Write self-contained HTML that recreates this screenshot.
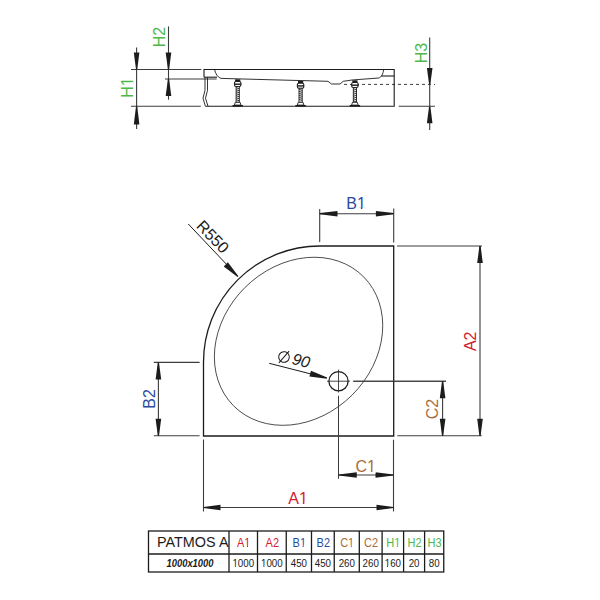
<!DOCTYPE html>
<html><head><meta charset="utf-8"><style>
html,body{margin:0;padding:0;background:#fff;}
svg{display:block;font-family:"Liberation Sans", sans-serif;}
</style></head><body>
<svg width="600" height="600" viewBox="0 0 600 600">
<rect width="600" height="600" fill="#fff"/>
<line x1="131" y1="69.5" x2="201.3" y2="69.5" stroke="#3c3c3c" stroke-width="1.1" />
<line x1="131" y1="106.2" x2="200.8" y2="106.2" stroke="#3c3c3c" stroke-width="1.1" />
<line x1="165" y1="79" x2="216.7" y2="79" stroke="#3c3c3c" stroke-width="1.1" />
<line x1="136.6" y1="47.5" x2="136.6" y2="129" stroke="#3c3c3c" stroke-width="1.1" />
<polygon points="137.20,69.50 139.40,52.60 133.80,52.60 136.00,69.50" fill="#1c1c1c"/>
<polygon points="136.00,106.20 133.80,124.50 139.40,124.50 137.20,106.20" fill="#1c1c1c"/>
<line x1="168.5" y1="26.4" x2="168.5" y2="99.7" stroke="#3c3c3c" stroke-width="1.1" />
<polygon points="169.10,69.50 171.30,52.60 165.70,52.60 167.90,69.50" fill="#1c1c1c"/>
<polygon points="167.90,79.00 165.70,96.00 171.30,96.00 169.10,79.00" fill="#1c1c1c"/>
<line x1="429.7" y1="37.5" x2="429.7" y2="130" stroke="#3c3c3c" stroke-width="1.1" />
<polygon points="430.30,84.30 432.50,68.00 426.90,68.00 429.10,84.30" fill="#1c1c1c"/>
<polygon points="429.10,106.30 426.90,123.30 432.50,123.30 430.30,106.30" fill="#1c1c1c"/>
<line x1="398.7" y1="106.3" x2="435" y2="106.3" stroke="#3c3c3c" stroke-width="1.1" />
<line x1="344" y1="84.4" x2="435" y2="84.4" stroke="#3c3c3c" stroke-width="1.0" stroke-dasharray="3,3"/>
<path d="M204,77.2 L204,69.5 L394.2,69.5 L394.2,106.2 L205.4,106.2" fill="none" stroke="#1c1c1c" stroke-width="1.1"/>
<path d="M204,77.2 L217,77.2" fill="none" stroke="#1c1c1c" stroke-width="1.1"/>
<path d="M214.6,69.5 Q216,76.5 221,78.4 L328,81.3 L331.5,84 L340,84 L343.3,81.3 L352,80 L378.7,78 C381.5,77.4 383,74 383.7,69.5" fill="none" stroke="#1c1c1c" stroke-width="0.9"/>
<path d="M381.3,76 L394.2,76" fill="none" stroke="#1c1c1c" stroke-width="1.1"/>
<path d="M205,77.2 L205,90.3 L203,98.2 L205.4,106.2" fill="none" stroke="#1c1c1c" stroke-width="0.9"/>
<path d="M207.5,77.2 L207.5,90.3 L205.5,98.2 L208,106.2" fill="none" stroke="#1c1c1c" stroke-width="0.9"/>
<rect x="235.1" y="79.3" width="5.2" height="2" fill="#1c1c1c"/>
<rect x="234.5" y="81.5" width="6.4" height="5" rx="1.4" fill="#fff" stroke="#1c1c1c" stroke-width="1.1"/>
<rect x="234.29999999999998" y="83.5" width="6.8" height="1.4" fill="#1c1c1c"/>
<rect x="236.1" y="86.6" width="3.2" height="15.7" fill="#fff" stroke="#1c1c1c" stroke-width="0.9"/>
<line x1="236.1" y1="87.80" x2="239.29999999999998" y2="88.60" stroke="#1c1c1c" stroke-width="0.9"/>
<line x1="236.1" y1="89.80" x2="239.29999999999998" y2="90.60" stroke="#1c1c1c" stroke-width="0.9"/>
<line x1="236.1" y1="91.80" x2="239.29999999999998" y2="92.60" stroke="#1c1c1c" stroke-width="0.9"/>
<line x1="236.1" y1="93.80" x2="239.29999999999998" y2="94.60" stroke="#1c1c1c" stroke-width="0.9"/>
<line x1="236.1" y1="95.80" x2="239.29999999999998" y2="96.60" stroke="#1c1c1c" stroke-width="0.9"/>
<line x1="236.1" y1="97.80" x2="239.29999999999998" y2="98.60" stroke="#1c1c1c" stroke-width="0.9"/>
<line x1="236.1" y1="99.80" x2="239.29999999999998" y2="100.60" stroke="#1c1c1c" stroke-width="0.9"/>
<path d="M235.29999999999998,102.3 L240.1,102.3 L241.0,105.1 L234.39999999999998,105.1 Z" fill="#fff" stroke="#1c1c1c" stroke-width="0.9"/>
<rect x="232.5" y="105" width="10.4" height="1.6" fill="#1c1c1c"/>
<rect x="298.0" y="81.0" width="5.2" height="2" fill="#1c1c1c"/>
<rect x="297.40000000000003" y="83.2" width="6.4" height="5" rx="1.4" fill="#fff" stroke="#1c1c1c" stroke-width="1.1"/>
<rect x="297.20000000000005" y="85.2" width="6.8" height="1.4" fill="#1c1c1c"/>
<rect x="299.0" y="88.3" width="3.2" height="13.999999999999996" fill="#fff" stroke="#1c1c1c" stroke-width="0.9"/>
<line x1="299.0" y1="89.50" x2="302.20000000000005" y2="90.30" stroke="#1c1c1c" stroke-width="0.9"/>
<line x1="299.0" y1="91.50" x2="302.20000000000005" y2="92.30" stroke="#1c1c1c" stroke-width="0.9"/>
<line x1="299.0" y1="93.50" x2="302.20000000000005" y2="94.30" stroke="#1c1c1c" stroke-width="0.9"/>
<line x1="299.0" y1="95.50" x2="302.20000000000005" y2="96.30" stroke="#1c1c1c" stroke-width="0.9"/>
<line x1="299.0" y1="97.50" x2="302.20000000000005" y2="98.30" stroke="#1c1c1c" stroke-width="0.9"/>
<line x1="299.0" y1="99.50" x2="302.20000000000005" y2="100.30" stroke="#1c1c1c" stroke-width="0.9"/>
<path d="M298.20000000000005,102.3 L303.0,102.3 L303.90000000000003,105.1 L297.3,105.1 Z" fill="#fff" stroke="#1c1c1c" stroke-width="0.9"/>
<rect x="295.40000000000003" y="105" width="10.4" height="1.6" fill="#1c1c1c"/>
<rect x="352.29999999999995" y="80.3" width="5.2" height="2" fill="#1c1c1c"/>
<rect x="351.7" y="82.5" width="6.4" height="5" rx="1.4" fill="#fff" stroke="#1c1c1c" stroke-width="1.1"/>
<rect x="351.5" y="84.5" width="6.8" height="1.4" fill="#1c1c1c"/>
<rect x="353.29999999999995" y="87.6" width="3.2" height="14.7" fill="#fff" stroke="#1c1c1c" stroke-width="0.9"/>
<line x1="353.29999999999995" y1="88.80" x2="356.5" y2="89.60" stroke="#1c1c1c" stroke-width="0.9"/>
<line x1="353.29999999999995" y1="90.80" x2="356.5" y2="91.60" stroke="#1c1c1c" stroke-width="0.9"/>
<line x1="353.29999999999995" y1="92.80" x2="356.5" y2="93.60" stroke="#1c1c1c" stroke-width="0.9"/>
<line x1="353.29999999999995" y1="94.80" x2="356.5" y2="95.60" stroke="#1c1c1c" stroke-width="0.9"/>
<line x1="353.29999999999995" y1="96.80" x2="356.5" y2="97.60" stroke="#1c1c1c" stroke-width="0.9"/>
<line x1="353.29999999999995" y1="98.80" x2="356.5" y2="99.60" stroke="#1c1c1c" stroke-width="0.9"/>
<line x1="353.29999999999995" y1="100.80" x2="356.5" y2="101.60" stroke="#1c1c1c" stroke-width="0.9"/>
<path d="M352.5,102.3 L357.29999999999995,102.3 L358.2,105.1 L351.59999999999997,105.1 Z" fill="#fff" stroke="#1c1c1c" stroke-width="0.9"/>
<rect x="349.7" y="105" width="10.4" height="1.6" fill="#1c1c1c"/>
<g transform="translate(132.6 87.5) rotate(-90)"><text x="0" y="0" font-size="16" fill="#4db848" text-anchor="middle">H1</text><rect x="1.875" y="-1.523" width="3.438" height="2.500" fill="#fff"/><rect x="6.805" y="-1.523" width="3.352" height="2.500" fill="#fff"/></g>
<g transform="translate(165 37) rotate(-90)"><text x="0" y="0" font-size="16" fill="#4db848" text-anchor="middle">H2</text></g>
<g transform="translate(427.2 53) rotate(-90)"><text x="0" y="0" font-size="16" fill="#4db848" text-anchor="middle">H3</text></g>
<path d="M203.5,362.4 A116.2,116.2 0 0 1 319.7,246 L393.7,246 L393.7,436 L203.5,436 Z" fill="none" stroke="#1c1c1c" stroke-width="1.3"/>
<ellipse cx="298.55" cy="341.28" rx="91.6" ry="75.9" transform="rotate(-44.74 298.55 341.28)" fill="none" stroke="#3a3a3a" stroke-width="0.85"/>
<circle cx="338.5" cy="381.2" r="9.6" fill="none" stroke="#1c1c1c" stroke-width="1.3"/>
<line x1="327" y1="381.2" x2="350" y2="381.2" stroke="#333" stroke-width="0.9" />
<line x1="353.3" y1="381.2" x2="446" y2="381.2" stroke="#3c3c3c" stroke-width="1.0" />
<line x1="338.5" y1="369.6" x2="338.5" y2="392.5" stroke="#333" stroke-width="0.9" />
<line x1="338.5" y1="395.8" x2="338.5" y2="478.8" stroke="#3c3c3c" stroke-width="1.0" />
<line x1="269.2" y1="363.3" x2="320" y2="376.3" stroke="#1c1c1c" stroke-width="1.0" />
<polygon points="327.16,377.62 310.97,370.80 309.43,376.40 326.84,378.78" fill="#1c1c1c"/>
<line x1="188.3" y1="224" x2="230" y2="268" stroke="#1c1c1c" stroke-width="1.0" />
<polygon points="238.43,276.28 227.86,262.36 223.74,266.44 237.57,277.12" fill="#1c1c1c"/>
<line x1="319.7" y1="209" x2="319.7" y2="242" stroke="#3c3c3c" stroke-width="1.1" />
<line x1="393.7" y1="208.5" x2="393.7" y2="242.5" stroke="#3c3c3c" stroke-width="1.1" />
<line x1="319.7" y1="213.7" x2="393.7" y2="213.7" stroke="#3c3c3c" stroke-width="1.1" />
<polygon points="319.70,214.30 337.50,216.50 337.50,210.90 319.70,213.10" fill="#1c1c1c"/>
<polygon points="393.70,213.10 375.90,210.90 375.90,216.50 393.70,214.30" fill="#1c1c1c"/>
<line x1="397" y1="246" x2="482" y2="246" stroke="#3c3c3c" stroke-width="1.1" />
<line x1="397.3" y1="435.7" x2="481.7" y2="435.7" stroke="#3c3c3c" stroke-width="1.1" />
<line x1="480" y1="246" x2="480" y2="435.7" stroke="#3c3c3c" stroke-width="1.1" />
<polygon points="479.40,246.00 477.20,263.00 482.80,263.00 480.60,246.00" fill="#1c1c1c"/>
<polygon points="480.60,435.70 482.80,418.70 477.20,418.70 479.40,435.70" fill="#1c1c1c"/>
<line x1="353.3" y1="381.3" x2="446" y2="381.3" stroke="#3c3c3c" stroke-width="1.0" />
<line x1="442.6" y1="381.3" x2="442.6" y2="435.7" stroke="#3c3c3c" stroke-width="1.1" />
<polygon points="442.00,381.30 439.80,398.30 445.40,398.30 443.20,381.30" fill="#1c1c1c"/>
<polygon points="443.20,435.70 445.40,418.70 439.80,418.70 442.00,435.70" fill="#1c1c1c"/>
<line x1="153.8" y1="362.4" x2="199.6" y2="362.4" stroke="#3c3c3c" stroke-width="1.1" />
<line x1="153.8" y1="435.7" x2="199.6" y2="435.7" stroke="#3c3c3c" stroke-width="1.1" />
<line x1="158.4" y1="362.4" x2="158.4" y2="435.7" stroke="#3c3c3c" stroke-width="1.1" />
<polygon points="157.80,362.40 155.60,379.40 161.20,379.40 159.00,362.40" fill="#1c1c1c"/>
<polygon points="159.00,435.70 161.20,418.70 155.60,418.70 157.80,435.70" fill="#1c1c1c"/>
<line x1="393.5" y1="439.7" x2="393.5" y2="511.5" stroke="#3c3c3c" stroke-width="1.1" />
<line x1="338.75" y1="475" x2="393.5" y2="475" stroke="#3c3c3c" stroke-width="1.1" />
<polygon points="338.75,475.60 356.75,477.80 356.75,472.20 338.75,474.40" fill="#1c1c1c"/>
<polygon points="393.50,474.40 375.50,472.20 375.50,477.80 393.50,475.60" fill="#1c1c1c"/>
<line x1="203.5" y1="439.5" x2="203.5" y2="511.5" stroke="#3c3c3c" stroke-width="1.1" />
<line x1="203.5" y1="507.5" x2="393.5" y2="507.5" stroke="#3c3c3c" stroke-width="1.1" />
<polygon points="203.50,508.10 220.50,510.30 220.50,504.70 203.50,506.90" fill="#1c1c1c"/>
<polygon points="393.50,506.90 376.50,504.70 376.50,510.30 393.50,508.10" fill="#1c1c1c"/>
<g transform="translate(356 209)"><text x="0" y="0" font-size="16" fill="#2b4b9f" text-anchor="middle">B1</text><rect x="1.434" y="-1.523" width="3.438" height="2.500" fill="#fff"/><rect x="6.363" y="-1.523" width="3.352" height="2.500" fill="#fff"/></g>
<g transform="translate(476 341.3) rotate(-90)"><text x="0" y="0" font-size="16" fill="#d2202e" text-anchor="middle">A2</text></g>
<g transform="translate(437.5 409) rotate(-90)"><text x="0" y="0" font-size="16" fill="#aa6c38" text-anchor="middle">C2</text></g>
<g transform="translate(155 399) rotate(-90)"><text x="0" y="0" font-size="16" fill="#2b4b9f" text-anchor="middle">B2</text></g>
<g transform="translate(365.6 471.8)"><text x="0" y="0" font-size="16" fill="#aa6c38" text-anchor="middle">C1</text><rect x="1.875" y="-1.523" width="3.438" height="2.500" fill="#fff"/><rect x="6.805" y="-1.523" width="3.352" height="2.500" fill="#fff"/></g>
<g transform="translate(298 503.6)"><text x="0" y="0" font-size="16" fill="#d2202e" text-anchor="middle">A1</text><rect x="1.434" y="-1.523" width="3.438" height="2.500" fill="#fff"/><rect x="6.363" y="-1.523" width="3.352" height="2.500" fill="#fff"/></g>
<text x="208.8" y="240.6" font-size="16" fill="#1c1c1c" text-anchor="middle" font-weight="normal" font-style="normal" transform="rotate(46 208.8 240.6)" >R550</text>
<g transform="translate(284,357) rotate(14)"><circle cx="0" cy="0" r="5.3" fill="none" stroke="#1c1c1c" stroke-width="1"/><line x1="-3.5" y1="7" x2="3.5" y2="-7" stroke="#1c1c1c" stroke-width="1"/><text x="8.6" y="4.8" font-size="16" font-style="italic" fill="#1c1c1c">90</text></g>
<rect x="148.5" y="531" width="295.25" height="41" fill="none" stroke="#1c1c1c" stroke-width="1.3"/>
<line x1="148.5" y1="554" x2="443.75" y2="554" stroke="#1c1c1c" stroke-width="1.3" />
<line x1="229" y1="531" x2="229" y2="572" stroke="#1c1c1c" stroke-width="1.3" />
<line x1="257.5" y1="531" x2="257.5" y2="572" stroke="#1c1c1c" stroke-width="1.3" />
<line x1="286.25" y1="531" x2="286.25" y2="572" stroke="#1c1c1c" stroke-width="1.3" />
<line x1="311.5" y1="531" x2="311.5" y2="572" stroke="#1c1c1c" stroke-width="1.3" />
<line x1="334.25" y1="531" x2="334.25" y2="572" stroke="#1c1c1c" stroke-width="1.3" />
<line x1="359.3" y1="531" x2="359.3" y2="572" stroke="#1c1c1c" stroke-width="1.3" />
<line x1="382.1" y1="531" x2="382.1" y2="572" stroke="#1c1c1c" stroke-width="1.3" />
<line x1="403.6" y1="531" x2="403.6" y2="572" stroke="#1c1c1c" stroke-width="1.3" />
<line x1="424.6" y1="531" x2="424.6" y2="572" stroke="#1c1c1c" stroke-width="1.3" />
<g transform="translate(243.65 546.6) scale(0.9 1)"><text x="0" y="0" font-size="12.2" fill="#d2202e" text-anchor="middle">A1</text><rect x="1.093" y="-1.162" width="2.621" height="1.906" fill="#fff"/><rect x="4.852" y="-1.162" width="2.556" height="1.906" fill="#fff"/></g>
<g transform="translate(243.25 566.7) scale(0.93 1)"><text x="0" y="0" font-size="10.5" fill="#1c1c1c" text-anchor="middle">1000</text><rect x="-11.320" y="-1.000" width="2.256" height="1.641" fill="#fff"/><rect x="-8.085" y="-1.000" width="2.199" height="1.641" fill="#fff"/></g>
<g transform="translate(272.275 546.6) scale(0.9 1)"><text x="0" y="0" font-size="12.2" fill="#d2202e" text-anchor="middle">A2</text></g>
<g transform="translate(271.875 566.7) scale(0.93 1)"><text x="0" y="0" font-size="10.5" fill="#1c1c1c" text-anchor="middle">1000</text><rect x="-11.320" y="-1.000" width="2.256" height="1.641" fill="#fff"/><rect x="-8.085" y="-1.000" width="2.199" height="1.641" fill="#fff"/></g>
<g transform="translate(299.275 546.6) scale(0.9 1)"><text x="0" y="0" font-size="12.2" fill="#2b4b9f" text-anchor="middle">B1</text><rect x="1.093" y="-1.162" width="2.621" height="1.906" fill="#fff"/><rect x="4.852" y="-1.162" width="2.556" height="1.906" fill="#fff"/></g>
<g transform="translate(298.875 566.7) scale(0.93 1)"><text x="0" y="0" font-size="10.5" fill="#1c1c1c" text-anchor="middle">450</text></g>
<g transform="translate(323.275 546.6) scale(0.9 1)"><text x="0" y="0" font-size="12.2" fill="#2b4b9f" text-anchor="middle">B2</text></g>
<g transform="translate(322.875 566.7) scale(0.93 1)"><text x="0" y="0" font-size="10.5" fill="#1c1c1c" text-anchor="middle">450</text></g>
<g transform="translate(347.17499999999995 546.6) scale(0.9 1)"><text x="0" y="0" font-size="12.2" fill="#aa6c38" text-anchor="middle">C1</text><rect x="1.430" y="-1.162" width="2.621" height="1.906" fill="#fff"/><rect x="5.189" y="-1.162" width="2.556" height="1.906" fill="#fff"/></g>
<g transform="translate(346.775 566.7) scale(0.93 1)"><text x="0" y="0" font-size="10.5" fill="#1c1c1c" text-anchor="middle">260</text></g>
<g transform="translate(371.1 546.6) scale(0.9 1)"><text x="0" y="0" font-size="12.2" fill="#aa6c38" text-anchor="middle">C2</text></g>
<g transform="translate(370.70000000000005 566.7) scale(0.93 1)"><text x="0" y="0" font-size="10.5" fill="#1c1c1c" text-anchor="middle">260</text></g>
<g transform="translate(393.25 546.6) scale(0.9 1)"><text x="0" y="0" font-size="12.2" fill="#4db848" text-anchor="middle">H1</text><rect x="1.430" y="-1.162" width="2.621" height="1.906" fill="#fff"/><rect x="5.189" y="-1.162" width="2.556" height="1.906" fill="#fff"/></g>
<g transform="translate(392.85 566.7) scale(0.93 1)"><text x="0" y="0" font-size="10.5" fill="#1c1c1c" text-anchor="middle">160</text><rect x="-8.401" y="-1.000" width="2.256" height="1.641" fill="#fff"/><rect x="-5.165" y="-1.000" width="2.199" height="1.641" fill="#fff"/></g>
<g transform="translate(414.5 546.6) scale(0.9 1)"><text x="0" y="0" font-size="12.2" fill="#4db848" text-anchor="middle">H2</text></g>
<g transform="translate(414.1 566.7) scale(0.93 1)"><text x="0" y="0" font-size="10.5" fill="#1c1c1c" text-anchor="middle">20</text></g>
<g transform="translate(434.575 546.6) scale(0.9 1)"><text x="0" y="0" font-size="12.2" fill="#4db848" text-anchor="middle">H3</text></g>
<g transform="translate(434.175 566.7) scale(0.93 1)"><text x="0" y="0" font-size="10.5" fill="#1c1c1c" text-anchor="middle">80</text></g>
<text x="157" y="546.6" font-size="15" fill="#1c1c1c" text-anchor="start" font-weight="normal" font-style="normal" textLength="71.5" lengthAdjust="spacingAndGlyphs">PATMOS A</text>
<text transform="translate(190 566.9) scale(0.94 1)" font-size="10" fill="#1c1c1c" text-anchor="middle" font-weight="bold" font-style="italic">1000x1000</text>
</svg></body></html>
